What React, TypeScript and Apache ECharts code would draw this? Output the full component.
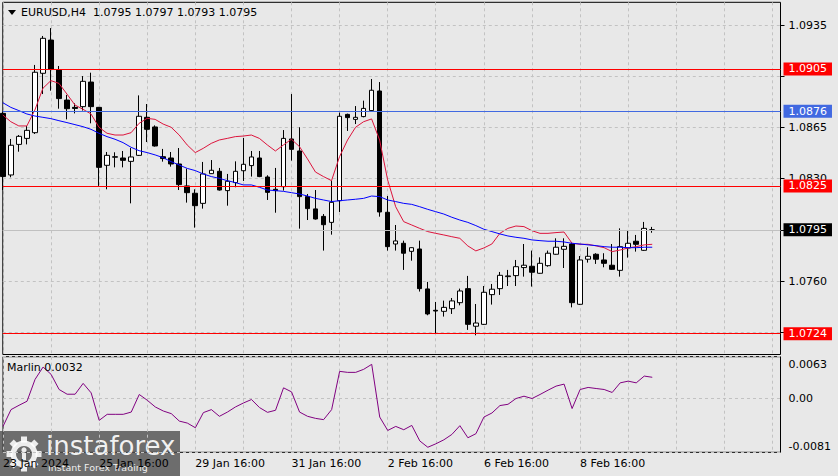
import React, { useEffect, useRef } from "react";
import * as echarts from "echarts";

// ---- data (EURUSD H4) ----
const timeLabels = ["23 Jan 2024", "25 Jan 16:00", "29 Jan 16:00", "31 Jan 16:00", "2 Feb 16:00", "6 Feb 16:00", "8 Feb 16:00"];
const barsPerLabel = 12;
const barsPerGrid = 6;
const slotCount = 98;

const open = [
  1.08746, 1.08325, 1.08534, 1.08575, 1.08614, 1.0902, 1.09247, 1.09042, 1.08837, 1.08787,
  1.08792, 1.0896, 1.08787, 1.08391, 1.08446, 1.08441, 1.08418, 1.08459, 1.08719, 1.08653,
  1.0845, 1.08441, 1.084, 1.0825, 1.082, 1.08131, 1.08334, 1.0835, 1.08218, 1.08273,
  1.08354, 1.08389, 1.08441, 1.08311, 1.08227, 1.08245, 1.08571, 1.08489, 1.08177, 1.08093,
  1.08042, 1.08001, 1.08149, 1.08739, 1.08705, 1.08724, 1.08765, 1.08899, 1.0807, 1.07853,
  1.07858, 1.07803, 1.07819, 1.07546, 1.074, 1.07393, 1.07411, 1.07452, 1.07548, 1.07291,
  1.07304, 1.07507, 1.07548, 1.0763, 1.07637, 1.07692, 1.07701, 1.07653, 1.07705, 1.07783,
  1.07817, 1.07853, 1.07441, 1.07749, 1.07783, 1.07744, 1.07708, 1.07673, 1.07826, 1.07872,
  1.0781, 1.0795,
];
const high = [
  1.08758, 1.08571, 1.08598, 1.0866, 1.09077, 1.09275, 1.09329, 1.0907, 1.08872, 1.08815,
  1.09001, 1.09024, 1.0879, 1.08482, 1.0848, 1.08489, 1.08509, 1.08869, 1.0881, 1.08664,
  1.08503, 1.08482, 1.08509, 1.08368, 1.08227, 1.08414, 1.08427, 1.08373, 1.08332, 1.08418,
  1.08578, 1.08489, 1.08489, 1.08323, 1.08373, 1.08632, 1.08878, 1.08651, 1.08195, 1.08222,
  1.08058, 1.08286, 1.08751, 1.08744, 1.08796, 1.08833, 1.08981, 1.0896, 1.08181, 1.07983,
  1.07876, 1.0783, 1.07876, 1.07594, 1.07457, 1.07466, 1.07484, 1.07548, 1.07635, 1.07443,
  1.07566, 1.0758, 1.07662, 1.07676, 1.07744, 1.07853, 1.07808, 1.07762, 1.07808, 1.07892,
  1.07892, 1.07862, 1.07771, 1.07831, 1.0779, 1.0779, 1.07853, 1.0796, 1.07949, 1.07915,
  1.08004, 1.0797,
];
const low = [
  1.08222, 1.08309, 1.08484, 1.08534, 1.08605, 1.08878, 1.08901, 1.08778, 1.08705, 1.08746,
  1.08765, 1.08678, 1.0825, 1.08227, 1.08377, 1.08377, 1.08131, 1.08455, 1.0855, 1.08519,
  1.08416, 1.08382, 1.08222, 1.08136, 1.07965, 1.08095, 1.08332, 1.08218, 1.08115, 1.08241,
  1.08284, 1.08314, 1.0831, 1.08154, 1.08067, 1.08218, 1.08423, 1.07958, 1.08017, 1.0802,
  1.07808, 1.07917, 1.08072, 1.08626, 1.08673, 1.08719, 1.08758, 1.0804, 1.07808, 1.07808,
  1.07676, 1.07739, 1.07528, 1.07366, 1.07243, 1.07357, 1.07375, 1.07434, 1.07266, 1.07229,
  1.073, 1.07439, 1.07505, 1.07566, 1.07566, 1.0763, 1.07562, 1.0765, 1.07698, 1.0778,
  1.07689, 1.0742, 1.07436, 1.07726, 1.07717, 1.07694, 1.07676, 1.0763, 1.0776, 1.07801,
  1.07806, 1.0793,
];
const close = [
  1.08314, 1.08528, 1.08589, 1.0863, 1.09027, 1.09259, 1.09049, 1.08847, 1.08778, 1.0878,
  1.08965, 1.08792, 1.08377, 1.08459, 1.0845, 1.08425, 1.08448, 1.08726, 1.08637, 1.08523,
  1.08437, 1.084, 1.08259, 1.08204, 1.08115, 1.08332, 1.08357, 1.08222, 1.08282, 1.0835,
  1.08398, 1.08448, 1.08314, 1.08206, 1.08218, 1.08575, 1.085, 1.08177, 1.08095, 1.08024,
  1.07985, 1.08138, 1.08726, 1.08717, 1.08719, 1.0878, 1.08904, 1.08072, 1.07835, 1.07874,
  1.0779, 1.07828, 1.07548, 1.07375, 1.07395, 1.0742, 1.07464, 1.07532, 1.07304, 1.07313,
  1.07523, 1.07544, 1.07639, 1.07635, 1.07698, 1.07708, 1.0766, 1.07721, 1.0779, 1.07831,
  1.07837, 1.07452, 1.07744, 1.07769, 1.07749, 1.07721, 1.0768, 1.07835, 1.07858, 1.07851,
  1.0796, 1.0795,
];
const maFast = [
  1.08735, 1.08689, 1.0866, 1.0866, 1.08769, 1.08917, 1.0897, 1.08951, 1.08878, 1.08803,
  1.08774, 1.08742, 1.08651, 1.0861, 1.08598, 1.08598, 1.08614, 1.08678, 1.08712, 1.08705,
  1.08673, 1.08651, 1.08598, 1.0853, 1.08478, 1.08507, 1.08541, 1.08564, 1.08575, 1.08587,
  1.08591, 1.08598, 1.08575, 1.0853, 1.08489, 1.0853, 1.08569, 1.08519, 1.08435, 1.08345,
  1.08314, 1.08286, 1.0845, 1.08564, 1.08651, 1.08689, 1.08708, 1.08564, 1.08291, 1.08108,
  1.08006, 1.07983, 1.0796, 1.07938, 1.07926, 1.07915, 1.07903, 1.07892, 1.0784, 1.07806,
  1.07826, 1.07853, 1.07926, 1.0796, 1.07976, 1.07972, 1.07944, 1.07926, 1.07926, 1.07931,
  1.07935, 1.07858, 1.07851, 1.07851, 1.0784, 1.07828, 1.07801, 1.07812, 1.07826, 1.07835,
  1.07847, 1.07851,
];
const maSlow = [
  1.08819, 1.08787, 1.08765, 1.08742, 1.08728, 1.08719, 1.0871, 1.08696, 1.08683, 1.08669,
  1.08655, 1.08637, 1.0861, 1.08587, 1.08569, 1.08546, 1.08514, 1.08491, 1.08478, 1.08462,
  1.08443, 1.08416, 1.08393, 1.0837, 1.08355, 1.08332, 1.08314, 1.08302, 1.08286, 1.08273,
  1.08257, 1.08257, 1.08241, 1.08222, 1.08218, 1.08213, 1.08204, 1.08195, 1.08181, 1.08165,
  1.08154, 1.08143, 1.08149, 1.08154, 1.08159, 1.08165, 1.08181, 1.08177, 1.08154, 1.08143,
  1.08131, 1.08124, 1.08108, 1.0809, 1.08074, 1.08058, 1.08036, 1.08017, 1.08001, 1.07979,
  1.07954, 1.07938, 1.07922, 1.07908, 1.07899, 1.07892, 1.07881, 1.07876, 1.07872, 1.07872,
  1.07867, 1.07858, 1.07853, 1.07847, 1.07842, 1.07835, 1.07831, 1.07831, 1.07828, 1.07828,
  1.07831, 1.07831,
];
const marlin = [
  -0.0042, -0.00167, -0.00102, -0.00041, 0.00288, 0.00474, 0.00364, 0.00136, 0.00065, 0.00065,
  0.00228, 0.00085, -0.00329, -0.00238, -0.00238, -0.00238, -0.00204, 0.00061, -0.00026, -0.00127,
  -0.00188, -0.00228, -0.0034, -0.0037, -0.0044, -0.00212, -0.00167, -0.00268, -0.00204, -0.00127,
  -0.00067, -0.00015, -0.00136, -0.00208, -0.00177, 0.00161, 0.001, -0.00204, -0.00268, -0.00299,
  -0.00318, -0.00167, 0.00409, 0.00394, 0.00394, 0.0044, 0.00515, -0.00279, -0.00481, -0.0042,
  -0.0047, -0.00405, -0.00639, -0.00734, -0.00682, -0.00622, -0.00541, -0.00409, -0.00591, -0.0053,
  -0.00279, -0.00218, -0.00106, -0.00087, 0, 0.00035, 0, 0.00061, 0.00126, 0.00187,
  0.00217, -0.00151, 0.00136, 0.00167, 0.00151, 0.00136, 0.00091, 0.00236, 0.00262, 0.00236,
  0.00338, 0.0032,
];
// grid ticks (all get a dashed line); labels hidden behind price tags are not printed
const priceTicks = [1.0725, 1.076, 1.0795, 1.083, 1.0865, 1.09, 1.0935];
const priceTickLabels = [1.076, 1.083, 1.0865, 1.0935];
const marlinTicks = [-0.0081, 0, 0.0063];
const priceMin = 1.070978;
const priceMax = 1.095052;
const redLevels = [1.0905, 1.0825, 1.0724];
const blueLevels = [1.0876];
const symbolName = "EURUSD,H4";
const indicatorName = "Marlin";

const FONT = "DejaVu Sans";

export default function App() {
  const ref = useRef<HTMLDivElement>(null);

  useEffect(() => {
    if (!ref.current) return;
    const chart = echarts.init(ref.current, null, { renderer: "svg" });
    const slots = Array.from({ length: slotCount }, (_, i) => String(i));
    const last = close.length - 1;
    const gridSplit = {
      show: true,
      interval: (i: number) => i % barsPerGrid === 0,
      lineStyle: { color: "#c2c2c2", type: [3, 3], width: 1 },
    };
    const levelLabel = (bg: string) => ({
      show: true,
      position: "end",
      distance: 3,
      formatter: (p: any) => Number(p.value).toFixed(4),
      backgroundColor: bg,
      color: "#fff",
      fontFamily: FONT,
      fontSize: 11,
      lineHeight: 11,
      padding: [1, 5, 1, 5],
    });
    const markData: any[] = [
      { yAxis: close[last], lineStyle: { color: "#c0c0c0", type: "solid", width: 1 }, label: levelLabel("#000000") },
      ...blueLevels.map((v) => ({ yAxis: v, lineStyle: { color: "#4169e1", type: "solid", width: 1 }, label: levelLabel("#4169e1") })),
      ...redLevels.map((v) => ({ yAxis: v, lineStyle: { color: "#ff0000", type: "solid", width: 1 }, label: levelLabel("#ff0000") })),
    ];

    const teeth = Array.from({ length: 8 }, (_, i) => ({
      type: "rect",
      x: 24,
      y: 454,
      rotation: (i * Math.PI) / 4,
      shape: { x: -3, y: -17.5, width: 6, height: 6 },
      style: { fill: "rgba(255,255,255,0.88)" },
    }));

    const option: any = {
      animation: false,
      backgroundColor: "#e8e8e8",
      textStyle: { fontFamily: FONT },
      grid: [
        { left: 2.8, right: 57.5, top: 2.3, bottom: 121.5, show: true, borderColor: "#000", borderWidth: 1, backgroundColor: "transparent" },
        { left: 2.8, right: 57.5, top: 356.7, bottom: 23.7, show: true, borderColor: "#000", borderWidth: 1, backgroundColor: "transparent" },
      ],
      xAxis: [
        {
          type: "category", gridIndex: 0, data: slots, boundaryGap: false,
          axisLine: { show: false }, axisTick: { show: false }, axisLabel: { show: false },
          splitLine: gridSplit,
        },
        {
          type: "category", gridIndex: 1, data: slots, boundaryGap: false,
          axisLine: { show: false }, axisTick: { show: false },
          axisLabel: {
            show: true,
            interval: (i: number) => i % barsPerLabel === 0 && i / barsPerLabel < timeLabels.length,
            formatter: (v: string) => timeLabels[Number(v) / barsPerLabel] ?? "",
            align: "left",
            margin: 6,
            color: "#000",
            fontFamily: FONT,
            fontSize: 11,
          },
          splitLine: gridSplit,
        },
      ],
      yAxis: [
        {
          type: "value", gridIndex: 0, position: "right", min: priceMin, max: priceMax,
          axisLine: { show: false },
          axisTick: { show: true, length: 4, customValues: priceTicks, lineStyle: { color: "#000" } },
          axisLabel: { customValues: priceTickLabels, formatter: (v: number) => v.toFixed(4), color: "#000", fontFamily: FONT, fontSize: 11, margin: 8 },
          splitLine: { show: true, lineStyle: { color: "#c2c2c2", type: [3, 3], width: 1 } },
        },
        {
          type: "value", gridIndex: 1, position: "right", min: marlinTicks[0], max: marlinTicks[2],
          axisLine: { show: false },
          axisTick: { show: false, customValues: marlinTicks },
          axisLabel: {
            customValues: marlinTicks,
            margin: 8,
            color: "#000",
            fontFamily: FONT,
            fontSize: 11,
            formatter: (v: number) => (v > 0.001 ? `{top|${v.toFixed(4)}}` : v < -0.001 ? `{bot|${v.toFixed(4)}}` : "0.00"),
            rich: {
              top: { padding: [15, 0, 0, 0], fontFamily: FONT, fontSize: 11, color: "#000" },
              bot: { padding: [0, 0, 12, 0], fontFamily: FONT, fontSize: 11, color: "#000" },
            },
          },
          splitLine: { show: true, lineStyle: { color: "#c2c2c2", type: [3, 3], width: 1 } },
        },
      ],
      series: [
        {
          type: "candlestick", xAxisIndex: 0, yAxisIndex: 0, barWidth: 5,
          data: open.map((o, i) => [o, close[i], low[i], high[i]]),
          itemStyle: { color: "#ffffff", color0: "#000000", borderColor: "#000000", borderColor0: "#000000", borderWidth: 1 },
          markLine: { silent: true, precision: 4, symbol: ["none", "none"], animation: false, data: markData },
          z: 3,
        },
        {
          type: "line", xAxisIndex: 0, yAxisIndex: 0, data: maFast, symbol: "none",
          lineStyle: { color: "#dc143c", width: 1 }, z: 4,
        },
        {
          type: "line", xAxisIndex: 0, yAxisIndex: 0, data: maSlow, symbol: "none",
          lineStyle: { color: "#0000ff", width: 1 }, z: 4,
        },
        {
          type: "line", xAxisIndex: 1, yAxisIndex: 1, data: marlin, symbol: "none",
          lineStyle: { color: "#800080", width: 1 },
        },
      ],
      graphic: [
        { type: "polygon", shape: { points: [[8, 10], [16, 10], [12, 15]] }, style: { fill: "#000" }, z: 10 },
        {
          type: "text", x: 21, y: 12.7, z: 10,
          style: {
            text: `${symbolName}  ${open[last].toFixed(4)} ${high[last].toFixed(4)} ${low[last].toFixed(4)} ${close[last].toFixed(4)}`,
            fill: "#000", fontFamily: FONT, fontSize: 11, verticalAlign: "middle",
          },
        },
        {
          type: "text", x: 7, y: 367.3, z: 10,
          style: { text: `${indicatorName} ${marlin[last].toFixed(4)}`, fill: "#000", fontFamily: FONT, fontSize: 11, verticalAlign: "middle" },
        },
        {
          type: "group", z: 20,
          children: [
            { type: "rect", shape: { x: 0, y: 431, width: 180, height: 45 }, style: { fill: "rgba(78,78,78,0.8)" } },
            { type: "ring", shape: { cx: 24, cy: 454, r: 13.5, r0: 8 }, style: { fill: "rgba(255,255,255,0.88)" } },
            ...teeth,
            { type: "circle", shape: { cx: 24, cy: 450, r: 2.6 }, style: { fill: "rgba(255,255,255,0.88)" } },
            { type: "rect", shape: { x: 22, y: 453, width: 4, height: 7 }, style: { fill: "rgba(255,255,255,0.88)" } },
            {
              type: "text", x: 46, y: 445.5,
              style: { text: "instaforex", fill: "rgba(255,255,255,0.92)", fontFamily: FONT, fontSize: 26, verticalAlign: "middle" },
            },
            {
              type: "text", x: 48, y: 467.5,
              style: { text: "Instant Forex Trading", fill: "rgba(255,255,255,0.9)", fontFamily: FONT, fontSize: 9.5, verticalAlign: "middle" },
            },
          ],
        },
      ],
    };
    chart.setOption(option);
    return () => chart.dispose();
  }, []);

  return <div ref={ref} style={{ position: "absolute", left: 0, top: 0, width: 838, height: 476 }} />;
}
